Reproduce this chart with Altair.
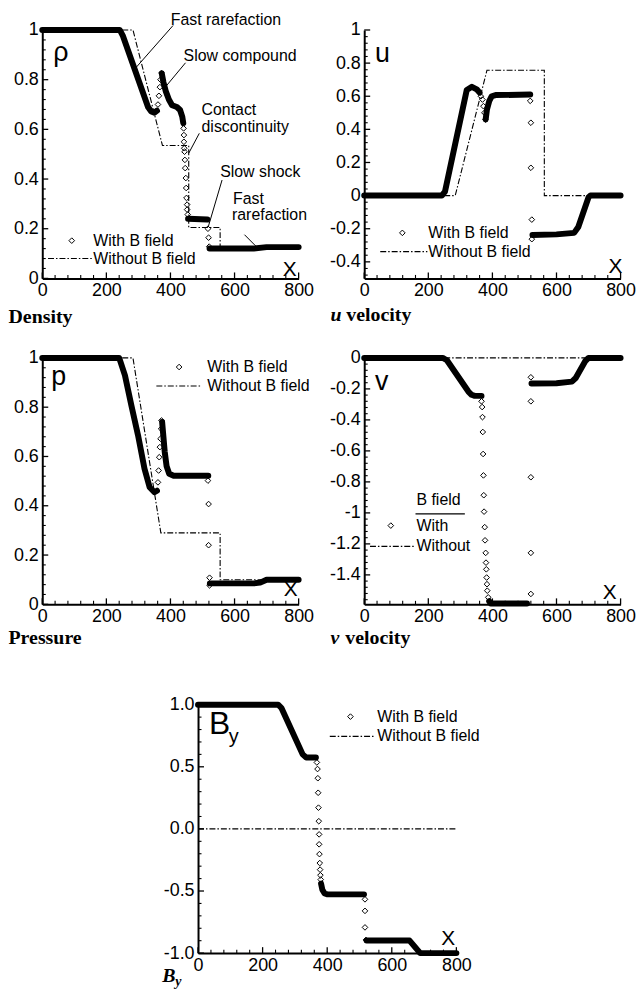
import altair as alt
import pandas as pd
import numpy as np

FONT = "Liberation Sans"
SERIF = "Liberation Serif"

# ---------------- tick labels ----------------
x_ticks = [0, 200, 400, 600, 800]
rho_yticks = [0, 0.2, 0.4, 0.6, 0.8, 1]
u_yticks = [-0.4, -0.2, 0, 0.2, 0.4, 0.6, 0.8, 1]
p_yticks = [0, 0.2, 0.4, 0.6, 0.8, 1]
v_yticks = [-1.4, -1.2, -1, -0.8, -0.6, -0.4, -0.2, 0]
b_yticks = [-1, -0.5, 0, 0.5, 1]

# ---------------- Density ----------------
rho_dense_x = [0, 242, 252, 330, 340, 350, 358,
               373, 378, 385, 395, 405, 420, 430, 437, 440,
               455, 515,
               522, 660, 700, 800]
rho_dense_y = [1, 1, 0.975, 0.69, 0.672, 0.667, 0.675,
               0.825, 0.79, 0.755, 0.72, 0.697, 0.69, 0.678, 0.65, 0.625,
               0.24, 0.237,
               0.12, 0.12, 0.126, 0.126]
rho_dense_seg = [0] * 7 + [1] * 9 + [2] * 2 + [3] * 4
rho_pts_x = [361, 364, 367, 369, 372,
             441, 442, 442, 443, 444, 445, 446, 448, 449, 450, 452, 452, 454,
             517, 519, 521]
rho_pts_y = [0.70, 0.735, 0.77, 0.80, 0.827,
             0.604, 0.577, 0.55, 0.524, 0.51, 0.477, 0.444, 0.404, 0.364, 0.324, 0.297, 0.277, 0.257,
             0.20, 0.164, 0.128]
rho_hydro_x = [0, 283, 375, 457, 457, 555, 555, 800]
rho_hydro_y = [1, 1, 0.535, 0.535, 0.205, 0.205, 0.124, 0.124]

# ---------------- u velocity ----------------
u_dense_x = [0, 242, 252, 320, 336, 351, 360,
             379, 383, 390, 398, 410, 518,
             525, 600, 655, 668, 700, 706, 800]
u_dense_y = [0, 0, 0.024, 0.638, 0.657, 0.642, 0.622,
             0.46, 0.52, 0.57, 0.60, 0.607, 0.61,
             -0.238, -0.234, -0.225, -0.19, -0.01, 0, 0]
u_dense_seg = [0] * 7 + [1] * 6 + [2] * 7
u_pts_x = [364, 369, 372, 375, 378, 518, 520, 520, 523, 523]
u_pts_y = [0.60, 0.58, 0.54, 0.50, 0.46, 0.572, 0.44, 0.168, -0.145, -0.263]
u_hydro_x = [0, 284, 383, 562, 562, 800]
u_hydro_y = [0, 0, 0.757, 0.757, 0, 0]

# ---------------- Pressure ----------------
p_dense_x = [0, 240, 258, 278, 299, 319, 335, 350, 358,
             374, 378, 382, 388, 396, 410, 518,
             523, 660, 680, 700, 800]
p_dense_y = [1, 1, 0.929, 0.807, 0.685, 0.55, 0.475, 0.455, 0.461,
             0.74, 0.68, 0.62, 0.56, 0.53, 0.522, 0.522,
             0.085, 0.085, 0.088, 0.1, 0.1]
p_dense_seg = [0] * 9 + [1] * 7 + [2] * 5
p_pts_x = [361, 363, 365, 367, 369, 371, 372, 517, 519, 519, 522, 522]
p_pts_y = [0.495, 0.543, 0.597, 0.638, 0.672, 0.712, 0.746, 0.502, 0.407, 0.24, 0.108, 0.077]
p_hydro_x = [0, 283, 370, 555, 555, 800]
p_hydro_y = [1, 1, 0.29, 0.29, 0.1, 0.1]

# ---------------- v velocity ----------------
v_dense_x = [0, 245, 258, 325, 335, 345, 366,
             390, 395, 508,
             522, 600, 648, 660, 690, 700, 800]
v_dense_y = [0, 0, -0.015, -0.217, -0.238, -0.245, -0.245,
             -1.57, -1.585, -1.585,
             -0.165, -0.163, -0.153, -0.13, -0.02, 0, 0]
v_dense_seg = [0] * 7 + [1] * 3 + [2] * 7
v_pts_x = [366, 368, 369, 370, 371, 372, 373, 374, 376, 377, 379, 380, 381, 382, 383, 384, 387,
           520, 520, 520, 520, 520]
v_pts_y = [-0.28, -0.317, -0.382, -0.478, -0.62, -0.758, -0.886, -0.992, -1.092, -1.177, -1.258,
           -1.321, -1.364, -1.417, -1.46, -1.502, -1.545,
           -0.125, -0.28, -0.77, -1.258, -1.523]
v_hydro_x = [0, 800]
v_hydro_y = [0, 0]

# ---------------- By ----------------
b_dense_x = [0, 248, 258, 324, 335, 365,
             381, 385, 392, 401, 514,
             522, 655, 665, 688, 800]
b_dense_y = [1, 1, 0.975, 0.6, 0.575, 0.575,
             -0.44, -0.49, -0.52, -0.527, -0.527,
             -0.899, -0.899, -0.93, -1.0, -1.0]
b_dense_seg = [0] * 6 + [1] * 5 + [2] * 5
b_pts_x = [368, 370, 371, 372, 373, 374, 375, 375, 376, 377, 378, 379, 380, 517, 517, 517, 520]
b_pts_y = [0.535, 0.482, 0.408, 0.291, 0.171, 0.062, -0.044, -0.124, -0.203, -0.275, -0.328,
           -0.373, -0.408, -0.567, -0.66, -0.793, -0.894]
b_hydro_x = [0, 800]
b_hydro_y = [0, 0]

# ---------------- texts ----------------
rho_text = ["Fast rarefaction", "Slow compound", "Contact", "discontinuity", "Slow shock",
            "Fast", "rarefaction", "With B field", "Without B field"]
rho_text_x = [401, 441, 497, 497, 555, 595, 592, 159, 159]
rho_text_y = [1.042, 0.896, 0.676, 0.608, 0.428, 0.32, 0.256, 0.152, 0.08]
rho_lead_x = [408, 447, 490, 561, 631]
rho_lead_y = [1.018, 0.868, 0.584, 0.396, 0.176]
rho_lead_x2 = [294, 380, 457, 518, 671]
rho_lead_y2 = [0.851, 0.764, 0.504, 0.208, 0.124]

u_text = ["With B field", "Without B field"]
u_text_x = [200, 200]
u_text_y = [-0.225, -0.338]

p_text = ["With B field", "Without B field"]
p_text_x = [515, 515]
p_text_y = [0.963, 0.886]

v_text = ["B field", "With", "Without"]
v_text_x = [163, 163, 163]
v_text_y = [-0.917, -1.082, -1.216]

b_text = ["With B field", "Without B field"]
b_text_x = [555, 555]
b_text_y = [0.904, 0.745]


def df_xy(xs, ys, **extra):
    d = pd.DataFrame({"x": xs, "y": ys})
    for k, v in extra.items():
        d[k] = v
    d["i"] = range(len(d))
    return d


def minor(lo, hi, step, majors):
    vals = np.round(np.arange(lo, hi + 1e-9, step), 4)
    return [float(v) for v in vals if not any(abs(v - m) < 1e-6 for m in majors)]


def make_panel(W, H, ydom, yticks, ystep, ylabel_expr, dense, pts, hydro,
               texts, leads, leg_pt, dashes, solids, glyphs, xmark, subs, ymin0):
    xs = alt.Scale(domain=[0, 800], nice=False, zero=False)
    ys = alt.Scale(domain=ydom, nice=False, zero=False)
    axis_style = dict(title=None, ticks=False, grid=False, domainColor="black", domainWidth=2,
                      labelFont=FONT, labelFontSize=18, labelColor="black", labelOverlap=False,
                      labelFlush=False)
    xax = alt.Axis(values=x_ticks, labelPadding=3, **axis_style)
    yax = alt.Axis(values=yticks, labelPadding=4, labelExpr=ylabel_expr, **axis_style)
    X = alt.X("x:Q", scale=xs, axis=xax)
    Y = alt.Y("y:Q", scale=ys, axis=yax)

    layers = []
    layers.append(alt.Chart(hydro).mark_line(color="black", strokeWidth=1.1,
                                             strokeDash=[6, 2, 1.5, 2]).encode(x=X, y=Y, order="i:Q"))
    layers.append(alt.Chart(dense).mark_line(color="black", strokeWidth=6, strokeCap="round",
                                             strokeJoin="round").encode(x=X, y=Y, detail="seg:N", order="i:Q"))
    layers.append(alt.Chart(pts).mark_point(shape="diamond", filled=False, color="black",
                                            size=32, strokeWidth=1, opacity=1).encode(x=X, y=Y))
    # inward ticks
    xmaj = pd.DataFrame({"x": x_ticks})
    xmin = pd.DataFrame({"x": minor(0, 800, 40, x_ticks)})
    ymaj = pd.DataFrame({"y": yticks})
    ymin = pd.DataFrame({"y": minor(ymin0, ydom[1], ystep, yticks)})
    layers.append(alt.Chart(xmaj).mark_rule(color="black", strokeWidth=1.3).encode(
        x=X, y=alt.value(H), y2=alt.value(H - 6)))
    layers.append(alt.Chart(xmin).mark_rule(color="black", strokeWidth=1.1).encode(
        x=X, y=alt.value(H), y2=alt.value(H - 3.5)))
    layers.append(alt.Chart(ymaj).mark_rule(color="black", strokeWidth=1.3).encode(
        y=Y, x=alt.value(0), x2=alt.value(6)))
    layers.append(alt.Chart(ymin).mark_rule(color="black", strokeWidth=1.1).encode(
        y=Y, x=alt.value(0), x2=alt.value(3.5)))
    # legend & annotation texts
    layers.append(alt.Chart(texts).mark_text(align="left", baseline="middle", font=FONT,
                                             fontSize=16, color="black").encode(x=X, y=Y, text="t:N"))
    if leads is not None:
        layers.append(alt.Chart(leads).mark_rule(color="black", strokeWidth=1).encode(
            x=X, y=Y, x2="x2:Q", y2="y2:Q"))
    if leg_pt is not None:
        layers.append(alt.Chart(leg_pt).mark_point(shape="diamond", filled=False, color="black",
                                                   size=32, strokeWidth=1, opacity=1).encode(x=X, y=Y))
    if dashes is not None:
        layers.append(alt.Chart(dashes).mark_rule(color="black", strokeWidth=1.1,
                                                  strokeDash=[6, 2, 1.5, 2]).encode(x=X, y=Y, x2="x2:Q"))
    if solids is not None:
        layers.append(alt.Chart(solids).mark_rule(color="black", strokeWidth=1.2).encode(
            x=X, y=Y, x2="x2:Q"))
    layers.append(alt.Chart(glyphs).mark_text(align="left", baseline="alphabetic", font=FONT,
                                              color="black").encode(
        x=X, y=Y, text="t:N", size=alt.Size("s:Q", scale=None)))
    layers.append(alt.Chart(xmark).mark_text(align="center", baseline="alphabetic", font=FONT,
                                             fontSize=21, color="black").encode(x=X, y=Y, text="t:N"))
    for (t, dx, dy, fs, style) in subs:
        layers.append(alt.Chart(pd.DataFrame({"t": [t]})).mark_text(
            align="left", baseline="alphabetic", font=SERIF, fontWeight="bold", fontStyle=style,
            fontSize=fs, color="black").encode(x=alt.value(dx), y=alt.value(H + dy), text="t:N"))
    return alt.layer(*layers).properties(width=W, height=H)


LBL = "datum.value + ''"
LBL_B = "(datum.value < 0 ? '-' : '') + format(abs(datum.value), '.1f')"

p1 = make_panel(
    258, 250, [0, 1], rho_yticks, 0.04, LBL,
    df_xy(rho_dense_x, rho_dense_y, seg=rho_dense_seg), df_xy(rho_pts_x, rho_pts_y),
    df_xy(rho_hydro_x, rho_hydro_y),
    df_xy(rho_text_x, rho_text_y, t=rho_text),
    df_xy(rho_lead_x, rho_lead_y, x2=rho_lead_x2, y2=rho_lead_y2),
    df_xy([92], [0.152]), df_xy([18], [0.08], x2=[156]), None,
    df_xy([34], [0.876], t=["ρ"], s=[27]), df_xy([772], [0.008], t=["X"]),
    [("Density", -34, 45, 20, "normal")], 0)

p2 = make_panel(
    258, 250, [-0.5, 1], u_yticks, 0.04, LBL,
    df_xy(u_dense_x, u_dense_y, seg=u_dense_seg), df_xy(u_pts_x, u_pts_y),
    df_xy(u_hydro_x, u_hydro_y),
    df_xy(u_text_x, u_text_y, t=u_text), None,
    df_xy([119], [-0.225]), df_xy([50], [-0.338], x2=[197]), None,
    df_xy([34], [0.806], t=["u"], s=[27]), df_xy([784], [-0.468], t=["X"]),
    [("u", -34, 43, 20, "italic"), ("velocity", -18, 43, 20, "normal")], -0.48)

p3 = make_panel(
    258, 248, [0, 1], p_yticks, 0.04, LBL,
    df_xy(p_dense_x, p_dense_y, seg=p_dense_seg), df_xy(p_pts_x, p_pts_y),
    df_xy(p_hydro_x, p_hydro_y),
    df_xy(p_text_x, p_text_y, t=p_text), None,
    df_xy([427], [0.963]), df_xy([356], [0.886], x2=[494]), None,
    df_xy([28], [0.89], t=["p"], s=[27]), df_xy([775], [0.033], t=["X"]),
    [("Pressure", -34, 40, 20, "normal")], 0)

p4 = make_panel(
    258, 248, [-1.59, 0], v_yticks, 0.04, LBL,
    df_xy(v_dense_x, v_dense_y, seg=v_dense_seg), df_xy(v_pts_x, v_pts_y),
    df_xy(v_hydro_x, v_hydro_y),
    df_xy(v_text_x, v_text_y, t=v_text), None,
    df_xy([83], [-1.082]), df_xy([18], [-1.216], x2=[157]), df_xy([160], [-1.006], x2=[314]),
    df_xy([34], [-0.204], t=["v"], s=[27]), df_xy([766], [-1.553], t=["X"]),
    [("v", -34, 40, 20, "italic"), ("velocity", -19, 40, 20, "normal")], -1.56)

p5 = make_panel(
    260, 250, [-1, 1], b_yticks, 0.1, LBL_B,
    df_xy(b_dense_x, b_dense_y, seg=b_dense_seg), df_xy(b_pts_x, b_pts_y),
    df_xy(b_hydro_x, b_hydro_y),
    df_xy(b_text_x, b_text_y, t=b_text), None,
    df_xy([472], [0.904]), df_xy([408], [0.745], x2=[546]), None,
    df_xy([34, 95], [0.761, 0.689], t=["B", "y"], s=[32, 20]), df_xy([775], [-0.936], t=["X"]),
    [("B", -36, 29, 20, "italic"), ("y", -23, 33, 14, "italic")], -1)

row1 = alt.hconcat(p1, p2, spacing=66, bounds="flush")
row2 = alt.hconcat(p3, p4, spacing=66, bounds="flush")
top = alt.vconcat(row1, row2, spacing=22)
chart = alt.vconcat(top, p5, spacing=48, center=True).properties(
    padding=0, background="white"
).configure_view(strokeWidth=0)

chart.save("out.html", embed_options={"renderer": "svg", "actions": False})
